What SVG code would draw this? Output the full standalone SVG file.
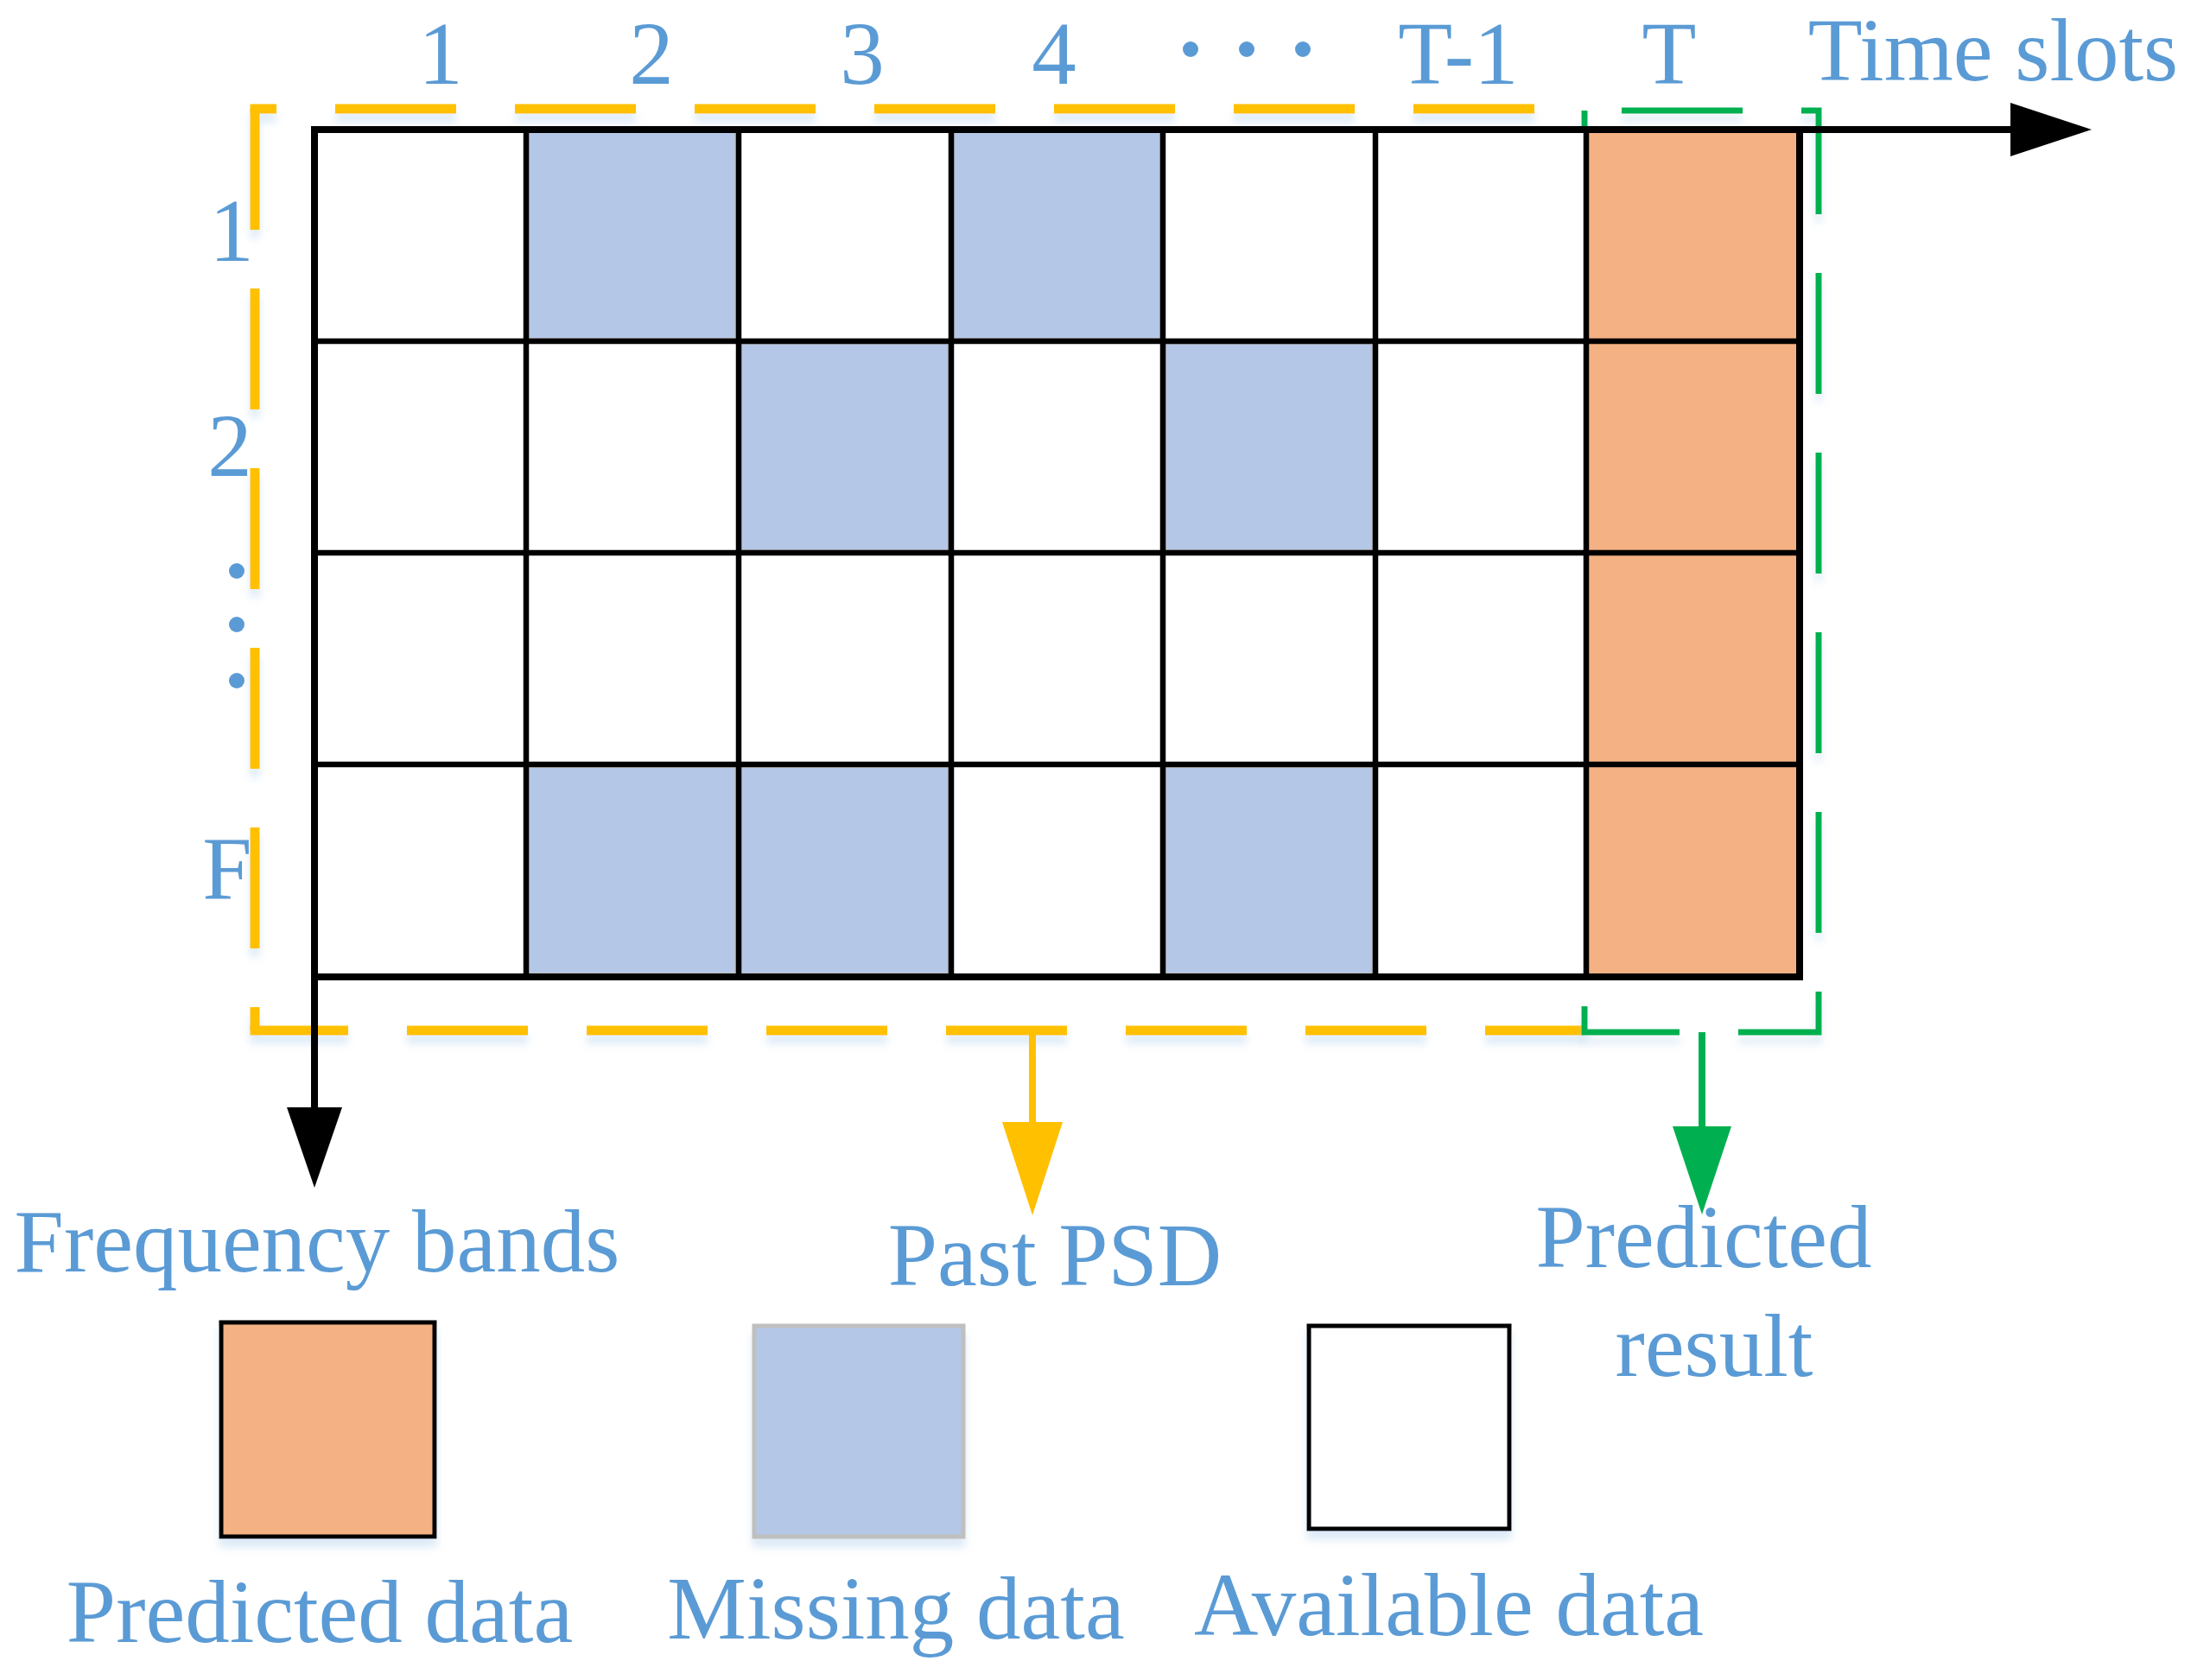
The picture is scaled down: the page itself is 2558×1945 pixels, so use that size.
<svg xmlns="http://www.w3.org/2000/svg" width="2558" height="1945" viewBox="0 0 2558 1945">
<style>
.lbl{font-family:"Liberation Serif","Times New Roman",serif;font-size:103px;fill:#5B9BD5;text-anchor:middle}
.w{fill:#FFFFFF}
.b{fill:#B4C7E7;stroke:#BFBFBF;stroke-width:4}
.o{fill:#F4B183}
.gl{stroke:#000;stroke-width:6.5;fill:none}
.ydash{stroke:#FFC000;stroke-width:11;fill:none;stroke-dasharray:140 68}
.gdash{stroke:#00B050;stroke-width:7;fill:none;stroke-dasharray:140 68}
.dot{fill:#5B9BD5}
</style>
<defs>
<filter id="sh" x="-10%" y="-10%" width="120%" height="140%">
<feDropShadow dx="0" dy="10" stdDeviation="5" flood-color="#9DC3E6" flood-opacity="0.35"/>
</filter>
</defs>
<rect width="2558" height="1945" fill="#FFFFFF"/>

<g id="past-psd-region" filter="url(#sh)">
<line class="ydash" x1="295" y1="126" x2="295" y2="1193"/>
<line class="ydash" x1="289.5" y1="126" x2="1834" y2="126" stroke-dashoffset="109.5"/>
<line class="ydash" x1="289.5" y1="1193" x2="1834" y2="1193" stroke-dashoffset="26.5"/>
</g>

<g id="predicted-region" filter="url(#sh)">
<path class="gdash" d="M1834,128 H2105 V1195 H1834 Z" stroke-dashoffset="165"/>
</g>

<g id="grid">
<g id="row1">
<rect class="w" x="364" y="150" width="245" height="245"/>
<rect class="b" x="611" y="152" width="241" height="241"/>
<rect class="w" x="855" y="150" width="245" height="245"/>
<rect class="b" x="1103" y="152" width="241" height="241"/>
<rect class="w" x="1346" y="150" width="245" height="245"/>
<rect class="w" x="1592" y="150" width="245" height="245"/>
<rect class="o" x="1835" y="150" width="248" height="245"/>
</g>
<g id="row2">
<rect class="w" x="364" y="395" width="245" height="245"/>
<rect class="w" x="609" y="395" width="245" height="245"/>
<rect class="b" x="857" y="397" width="241" height="241"/>
<rect class="w" x="1101" y="395" width="245" height="245"/>
<rect class="b" x="1348" y="397" width="241" height="241"/>
<rect class="w" x="1592" y="395" width="245" height="245"/>
<rect class="o" x="1835" y="395" width="248" height="245"/>
</g>
<g id="row3">
<rect class="w" x="364" y="640" width="1473" height="245"/>
<rect class="o" x="1835" y="640" width="248" height="245"/>
</g>
<g id="row4">
<rect class="w" x="364" y="885" width="245" height="245"/>
<rect class="b" x="611" y="887" width="241" height="241"/>
<rect class="b" x="857" y="887" width="241" height="241"/>
<rect class="w" x="1101" y="885" width="245" height="245"/>
<rect class="b" x="1348" y="887" width="241" height="241"/>
<rect class="w" x="1592" y="885" width="245" height="245"/>
<rect class="o" x="1835" y="885" width="248" height="245"/>
</g>
<g id="grid-lines">
<line class="gl" x1="609" y1="150" x2="609" y2="1131"/>
<line class="gl" x1="855" y1="150" x2="855" y2="1131"/>
<line class="gl" x1="1101" y1="150" x2="1101" y2="1131"/>
<line class="gl" x1="1346" y1="150" x2="1346" y2="1131"/>
<line class="gl" x1="1592" y1="150" x2="1592" y2="1131"/>
<line class="gl" x1="1836" y1="150" x2="1836" y2="1131"/>
<line class="gl" x1="364" y1="395" x2="2083" y2="395"/>
<line class="gl" x1="364" y1="640" x2="2083" y2="640"/>
<line class="gl" x1="364" y1="885" x2="2083" y2="885"/>
<line stroke="#000" stroke-width="8" x1="2083" y1="150" x2="2083" y2="1135"/>
<line stroke="#000" stroke-width="8" x1="360" y1="1131" x2="2087" y2="1131"/>
</g>
</g>

<g id="connectors">
<g id="time-axis">
<line stroke="#000" stroke-width="8" x1="360" y1="150" x2="2330" y2="150"/>
<polygon fill="#000" points="2327,119 2421,150 2327,181"/>
</g>
<g id="freq-axis">
<line stroke="#000" stroke-width="8" x1="364" y1="146" x2="364" y2="1285"/>
<polygon fill="#000" points="332,1282 396,1282 364,1375"/>
</g>
<g id="past-psd-arrow">
<line stroke="#FFC000" stroke-width="8" x1="1195" y1="1193" x2="1195" y2="1302"/>
<polygon fill="#FFC000" points="1160,1299 1230,1299 1195,1407"/>
</g>
<g id="predicted-arrow">
<line stroke="#00B050" stroke-width="8" x1="1970" y1="1195" x2="1970" y2="1307"/>
<polygon fill="#00B050" points="1936,1304 2004,1304 1970,1406"/>
</g>
</g>

<g id="time-labels">
<text class="lbl" x="510" y="97">1</text>
<text class="lbl" x="754" y="97">2</text>
<text class="lbl" x="998" y="97">3</text>
<text class="lbl" x="1220" y="97">4</text>
<circle class="dot" cx="1378" cy="57" r="9"/>
<circle class="dot" cx="1443" cy="57" r="9"/>
<circle class="dot" cx="1508" cy="57" r="9"/>
<text class="lbl" x="1688" y="97">T-1</text>
<text class="lbl" x="1932" y="97">T</text>
<text class="lbl" x="2307" y="93">Time slots</text>
</g>

<g id="band-labels">
<text class="lbl" x="268" y="302">1</text>
<text class="lbl" x="266" y="551">2</text>
<circle class="dot" cx="274" cy="661" r="9"/>
<circle class="dot" cx="274" cy="723" r="9"/>
<circle class="dot" cx="274" cy="788" r="9"/>
<text class="lbl" x="263" y="1040">F</text>
</g>

<g id="axis-labels">
<text class="lbl" x="367" y="1472">Frequency bands</text>
<text class="lbl" x="1221" y="1488">Past PSD</text>
<text class="lbl" x="1972" y="1467">Predicted</text>
<text class="lbl" x="1984" y="1593">result</text>
</g>

<g id="legend-predicted">
<rect x="256" y="1531" width="247" height="248" fill="#F4B183" stroke="#000" stroke-width="5" filter="url(#sh)"/>
<text class="lbl" x="370" y="1901">Predicted data</text>
</g>
<g id="legend-missing">
<rect x="873" y="1535" width="242" height="244" fill="#B4C7E7" stroke="#BFBFBF" stroke-width="5" filter="url(#sh)"/>
<text class="lbl" x="1037" y="1897">Missing data</text>
</g>
<g id="legend-available">
<rect x="1515" y="1535" width="232" height="235" fill="#FFFFFF" stroke="#000" stroke-width="5" filter="url(#sh)"/>
<text class="lbl" x="1677" y="1893">Available data</text>
</g>
</svg>
